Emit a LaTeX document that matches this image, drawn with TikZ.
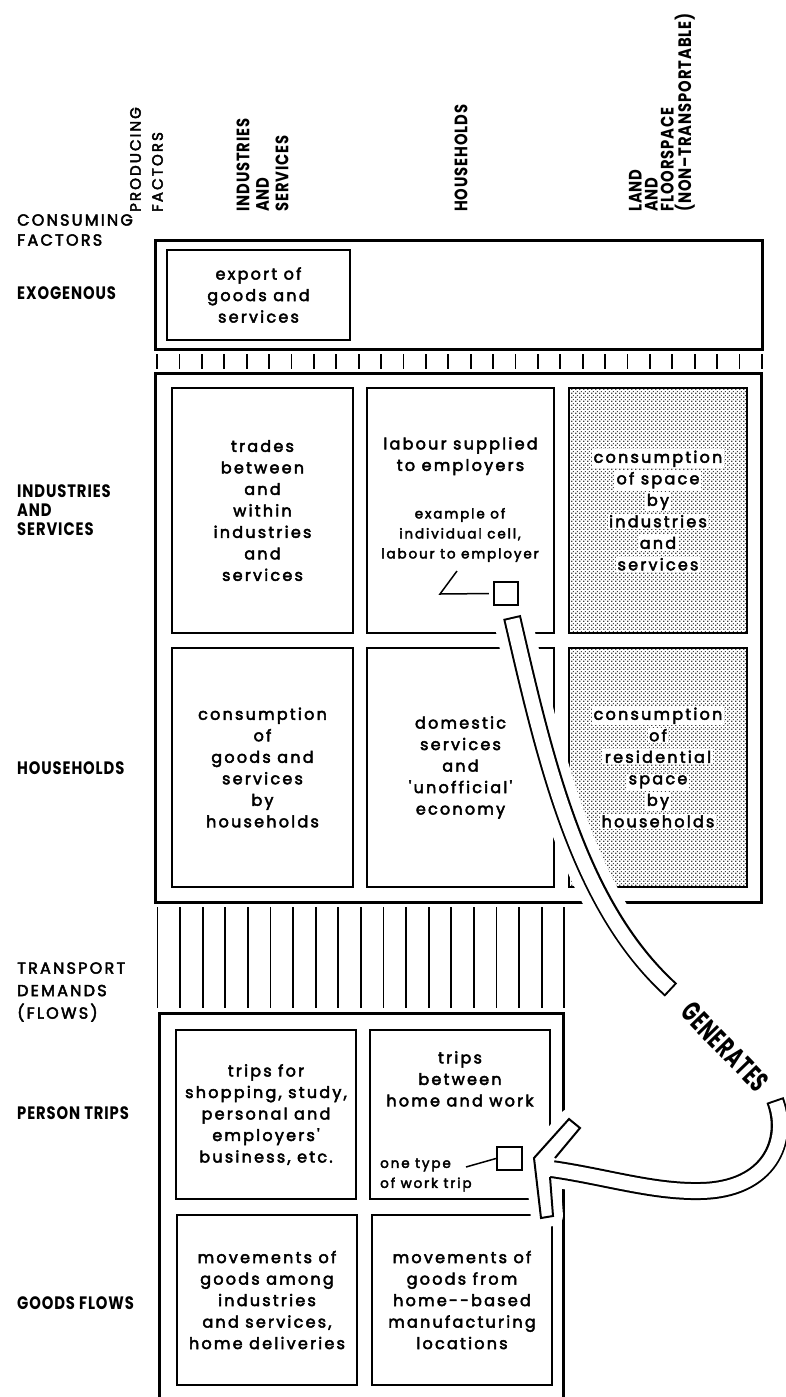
\documentclass[tikz,border=0pt]{standalone}
\usepackage{fontspec}
\newfontfamily\cellfont[FakeBold=3, LetterSpace=14]{Poppins}
\newfontfamily\labfont[FakeStretch=0.82, LetterSpace=5]{Poppins}
\newfontfamily\genfont[FakeStretch=0.64, LetterSpace=3]{Poppins}
\usetikzlibrary{patterns}

\pgfdeclarepatternformonly{stipple dots}{\pgfpointorigin}{\pgfpoint{3.5pt}{3.5pt}}{\pgfpoint{3.5pt}{3.5pt}}
{
  \pgfpathcircle{\pgfpoint{0.9pt}{0.9pt}}{0.85pt}
  \pgfpathcircle{\pgfpoint{2.65pt}{2.65pt}}{0.65pt}
  \pgfusepath{fill}
}

\tikzstyle{outerbox}=[draw, line width=3pt, rectangle, inner sep=0pt]
\tikzstyle{cellbox}=[draw, line width=1.8pt, rectangle, inner sep=0pt, align=center, font=\cellfont\fontsize{16}{21.5}\selectfont]
\tikzstyle{celltext}=[inner sep=0pt, align=center, font=\cellfont\fontsize{16}{21.5}\selectfont]
\tikzstyle{note}=[inner sep=0pt, font=\cellfont\fontsize{13.5}{20}\selectfont]
\tikzstyle{rowlabel}=[anchor=west, inner sep=0pt, align=left, font=\labfont\bfseries\fontsize{18}{19}\selectfont]
\tikzstyle{plainlabel}=[anchor=west, inner sep=0pt, align=left, font=\cellfont\fontsize{16}{20}\selectfont]
\tikzstyle{collabel}=[rotate=90, anchor=west, inner sep=0pt, align=left, font=\labfont\bfseries\fontsize{18}{19.5}\selectfont]
\tikzstyle{cellsq}=[draw, line width=2.2pt, rectangle, inner sep=0pt, minimum width=24, minimum height=23]
\tikzstyle{leader}=[draw, line width=1.5pt]
\tikzstyle{tick}=[draw, line width=1.8pt]
\tikzstyle{halo}=[draw=white, line width=38pt]
\tikzstyle{band}=[draw, line width=18pt]
\tikzstyle{bandcore}=[draw=white, line width=14pt]
\tikzstyle{stipple}=[pattern=stipple dots]

\setlength{\fboxsep}{1.5pt}
\newcommand{\wb}[1]{\colorbox{white}{#1}}

\begin{document}
\begin{tikzpicture}[x=1pt, y=-1pt]
  \useasboundingbox (0,0) rectangle (786,1397);

  % column headings
  \node[collabel, font=\cellfont\fontsize{15}{22}\selectfont] (hprod) at (146.5,212) {PRODUCING\\FACTORS};
  \node[collabel] (hind) at (262.5,212) {INDUSTRIES\\AND\\SERVICES};
  \node[collabel] (hhh) at (461,212) {HOUSEHOLDS};
  \node[collabel, font=\labfont\bfseries\fontsize{18}{16}\selectfont] (hland) at (662,212) {LAND\\AND\\FLOORSPACE\\(NON–TRANSPORTABLE)};

  % row headings
  \node[plainlabel] (lcons) at (17,230) {CONSUMING\\FACTORS};
  \node[plainlabel, font=\cellfont\fontsize{16}{22.5}\selectfont] (ltrans) at (17,992) {TRANSPORT\\DEMANDS\\(FLOWS)};
  \foreach \nodename/\y/\txt in {
    lexo/293/EXOGENOUS, lind/510/{INDUSTRIES\\AND\\SERVICES}, lhh/768/HOUSEHOLDS,
    lpt/1113/PERSON TRIPS, lgf/1303/GOODS FLOWS}
  {
    \node[rowlabel] (\nodename) at (17,\y) {\txt};
  }

  % outer boxes
  \node[outerbox, minimum width=607, minimum height=109] (exo) at (458.5,294.5) {};
  \node[outerbox, minimum width=606, minimum height=529] (main) at (458,637.5) {};
  \coordinate (fl) at (159,1400);
  \coordinate (fr) at (563,1400);
  \draw[line width=3pt] (fl) |- (563,1013) -- (fr);

  % cells
  \foreach \nodename/\x/\y/\w/\h/\txt in {
    exp/258.5/295/183/90/{export of\\goods and\\services},
    ind1/262.5/510.5/181/245/{trades\\between\\and\\within\\industries\\and\\services},
    ind2/460.5/510.5/187/245/{},
    hh1/262.5/767.5/181/239/{consumption\\of\\goods and\\services\\by\\households},
    hh2/460.5/767.5/187/239/{domestic\\services\\and\\'unofficial'\\economy},
    pt1/266/1114.5/180/169/{trips for\\shopping, study,\\personal and\\employers'\\business, etc.},
    pt2/460/1114.5/180/169/{},
    gf1/267/1300/180/170/{movements of\\goods among\\industries\\and services,\\home deliveries},
    gf2/462/1300/180/170/{movements of\\goods from\\home--based\\manufacturing\\locations}}
  {
    \node[cellbox, minimum width=\w, minimum height=\h] (\nodename) at (\x,\y) {\txt};
  }
  \node[cellbox, stipple, minimum width=178, minimum height=245] (ind3) at (658,510.5)
    {\wb{consumption}\\\wb{of space}\\\wb{by}\\\wb{industries}\\\wb{and}\\\wb{services}};
  \node[cellbox, stipple, minimum width=178, minimum height=239] (hh3) at (658,767.5)
    {\wb{consumption}\\\wb{of}\\\wb{residential}\\\wb{space}\\\wb{by}\\\wb{households}};

  \node[celltext, anchor=north] (ind2t) at (460.5,437) {labour supplied\\to employers};
  \node[note, align=center] (ind2n) at (460,535) {example of\\individual cell,\\labour to employer};
  \node[cellsq] (sq1) at (506,593.5) {};
  \coordinate (k1) at (457,571);
  \coordinate (k2) at (440,594);
  \draw[leader, shorten >=4pt] (k1) -- (k2) -- (sq1.west);

  \node[celltext, anchor=north] (pt2t) at (460,1051) {trips\\between\\home and work};
  \node[note, align=left, anchor=west] (pt2n) at (380,1175) {one type\\of work trip};
  \node[cellsq, minimum width=25] (sq2) at (509.5,1158.5) {};
  \coordinate (k3) at (466,1167);
  \draw[leader] (k3) -- (sq2.west);

  % ticks and flows
  \foreach \k in {0,...,27}
    \draw[tick] ({157+22.4*\k},354) -- ({157+22.4*\k},369);
  \foreach \k in {0,...,18}
    \draw[tick] ({157.5+22.6*\k},907) -- ({157.5+22.6*\k},1008);

  % generates arrow
  \coordinate (g0) at (512,617);
  \coordinate (g1) at (671,990);
  \coordinate (g2) at (775,1100);
  \coordinate (g3) at (544,1168);
  \coordinate (hA) at (555,1158);
  \coordinate (hB) at (580,1128);
  \coordinate (hC) at (569,1119);
  \coordinate (hD) at (534,1158);
  \coordinate (hE) at (541,1218);
  \coordinate (hF) at (553,1216);
  \coordinate (hG) at (550,1177);

  \draw[halo] (g0) .. controls (545,760) and (578,905) .. (g1);
  \draw[halo, line width=36pt] (g2) .. controls (790,1140) and (770,1190) .. (700,1191)
    .. controls (650,1192) and (600,1175) .. (g3);
  \draw[white, fill=white, line width=20pt, line join=round] (hA) -- (hB) -- (hC) -- (hD) -- (hE) -- (hF) -- (hG) -- cycle;

  \draw[band] (g0) .. controls (545,760) and (578,905) .. (g1);
  \draw[bandcore, shorten <=2pt, shorten >=2pt] (g0) .. controls (545,760) and (578,905) .. (g1);
  \draw[band] (g2) .. controls (790,1140) and (770,1190) .. (700,1191)
    .. controls (650,1192) and (600,1175) .. (g3);
  \draw[bandcore, shorten <=2pt] (g2) .. controls (790,1140) and (770,1190) .. (700,1191)
    .. controls (650,1192) and (600,1175) .. (g3);
  \fill[white] (hA) -- (hB) -- (hC) -- (hD) -- (hE) -- (hF) -- (hG) -- cycle;
  \draw[line width=2pt] (hA) -- (hB) -- (hC) -- (hD) -- (hE) -- (hF) -- (hG);

  \node[rotate=-46, inner sep=0pt, font=\genfont\bfseries\fontsize{28.5}{28.5}\selectfont] (gen) at (725,1047) {GENERATES};

\end{tikzpicture}
\end{document}
